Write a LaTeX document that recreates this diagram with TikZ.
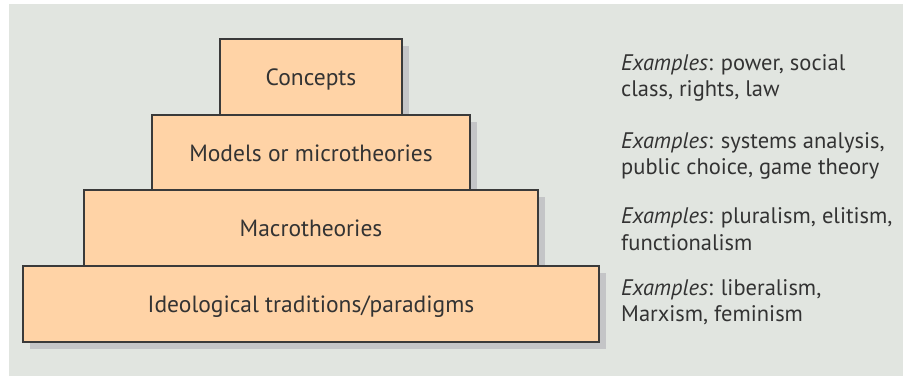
\documentclass[tikz,border=0pt]{standalone}
\usepackage{fontspec}
\setmainfont{PT Sans}
\usetikzlibrary{shadows}
\definecolor{bgc}{HTML}{E1E5E0}
\definecolor{boxc}{HTML}{FFD3A6}
\definecolor{shc}{HTML}{C4C5C7}
\definecolor{edgec}{HTML}{3A3A3A}
\definecolor{txtc}{HTML}{333333}
\tikzset{
  tier/.style={draw=edgec, line width=1.3pt, fill=boxc, inner sep=0pt,
    font=\fontsize{23.5}{27}\selectfont, text=txtc,
    text height=19pt, text depth=2pt,
    drop shadow={shadow xshift=7pt, shadow yshift=-7pt, fill=shc, opacity=1}},
  example/.style={anchor=west, align=left, inner sep=0pt, text=txtc,
    font=\fontsize{22.5}{26.5}\selectfont}
}
\begin{document}
\begin{tikzpicture}[x=1pt,y=-1pt]
\useasboundingbox (0,0) rectangle (903,376);
\fill[bgc] (9,4) rectangle (903,376);
\node[tier, minimum width=182pt, minimum height=76pt] (c) at (311,77) {Concepts};
\node[tier, minimum width=318pt, minimum height=75pt] (m) at (311,152.5) {Models or microtheories};
\node[tier, minimum width=454pt, minimum height=76pt] (a) at (311,228) {Macrotheories};
\node[tier, minimum width=576pt, minimum height=76pt] (i) at (311,304) {Ideological traditions/paradigms};
\node[example] (ec) at (621,78) {\textit{Examples}: power, social\\class, rights, law};
\node[example] (em) at (621,156) {\textit{Examples}: systems analysis,\\public choice, game theory};
\node[example] (ea) at (621,229) {\textit{Examples}: pluralism, elitism,\\functionalism};
\node[example] (ei) at (621,302) {\textit{Examples}: liberalism,\\Marxism, feminism};
\end{tikzpicture}
\end{document}
